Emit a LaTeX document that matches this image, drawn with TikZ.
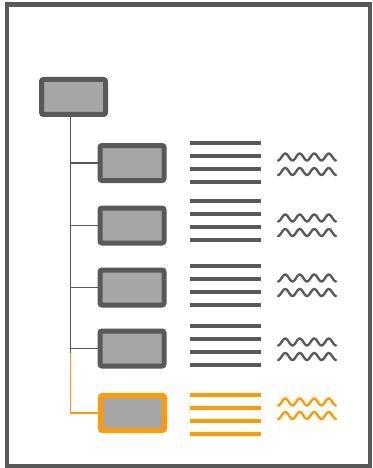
\documentclass[tikz,border=0pt]{standalone}
\usepackage{xcolor}
\usetikzlibrary{positioning}
\definecolor{framegray}{HTML}{595959}
\definecolor{boxfill}{HTML}{A6A6A6}
\definecolor{hlorange}{HTML}{FF9A00}
\begin{document}
\begin{tikzpicture}[x=1pt, y=-1pt,
  box/.style={draw=framegray, line width=5pt, rounded corners=2pt, fill=boxfill,
              minimum width=64pt, minimum height=35pt, inner sep=0pt},
  boxhl/.style={box, draw=hlorange},
  conn/.style={draw=framegray, line width=1.6pt},
  connhl/.style={conn, draw=hlorange},
  rule/.style={line width=3.4pt},
  wave/.style={line width=2.4pt, line cap=round, line join=round}]
  \useasboundingbox (0,0) rectangle (372,468);
  \draw[framegray, line width=4.5pt] (7,4.5) rectangle (370,466);

  % tree root and rows
  \node[box] (root) at (73.5,97) {};
  \foreach \n/\by/\ly/\wy in {1/163/143/157, 2/225.5/201/218, 3/287.5/266/278, 4/348.5/326/342} {
    \node[box] (item\n) at (132,\by) {};
    \foreach \k in {0,...,3}
      \draw[rule, framegray] (190,\ly+13*\k) -- (261,\ly+13*\k);
    \foreach \k in {0,1}
      \draw[wave, framegray] plot[domain=0:58, samples=60] ({278+\x}, {\wy+14.5*\k+3.5*cos(\x*24.83)});
  }
  \node[boxhl] (itemhl) at (132.5,413) {};
  \foreach \k in {0,...,3}
    \draw[rule, hlorange] (190,395+13*\k) -- (261,395+13*\k);
  \foreach \k in {0,1}
    \draw[wave, hlorange] plot[domain=0:58, samples=60] ({278+\x}, {402+13.5*\k+3.5*cos(\x*24.83)});

  % connectors
  \coordinate (trunk) at (70.5,114);
  \draw[conn] (trunk) -- ([yshift=-4pt]trunk |- item4.west);
  \foreach \n in {1,...,4}
    \draw[conn] (trunk |- item\n.west) -- (item\n.west);
  \draw[connhl] ([yshift=-4pt]trunk |- item4.west) |- (itemhl.west);
\end{tikzpicture}
\end{document}
